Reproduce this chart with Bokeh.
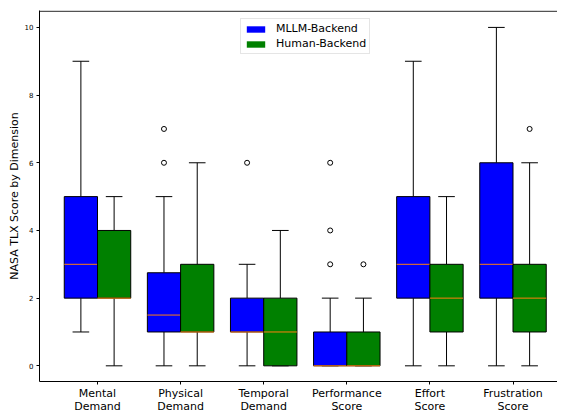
from bokeh.plotting import figure
from bokeh.models import (ColumnDataSource, Range1d, FixedTicker, Legend, LegendItem, Span)
from bokeh.transform import dodge
from bokeh.embed import file_html
from bokeh.resources import INLINE

# ---- data ----
categories = ["Mental\nDemand", "Physical\nDemand", "Temporal\nDemand",
              "Performance\nScore", "Effort\nScore", "Frustration\nScore"]
positions = [1, 2, 3, 4, 5, 6]

mllm_q1 = [2, 1, 1, 0, 2, 2]
mllm_med = [3, 1.5, 1, 0, 3, 3]
mllm_q3 = [5, 2.75, 2, 1, 5, 6]
mllm_lo = [1, 0, 0, 0, 0, 0]
mllm_hi = [9, 5, 3, 2, 9, 10]
mllm_out = [[], [6, 7], [6], [3, 4, 6], [], []]

human_q1 = [2, 1, 0, 0, 1, 1]
human_med = [2, 1, 1, 0, 2, 2]
human_q3 = [4, 3, 2, 1, 3, 3]
human_lo = [0, 0, 0, 0, 0, 0]
human_hi = [5, 6, 4, 2, 5, 6]
human_out = [[], [], [], [3], [], [7]]

yticks = [0, 2, 4, 6, 8, 10]

FONT = "DejaVu Sans"
BOX_W = 0.4
FRAME_H = 371
FRAME_W = 518
PX_PER_UNIT_Y = 33.84
PX_PER_UNIT_X = 83.1

p = figure(frame_width=FRAME_W, frame_height=FRAME_H,
           min_border_left=39, min_border_right=0, min_border_top=10, min_border_bottom=20,
           x_range=Range1d(0.302, 0.302 + FRAME_W / PX_PER_UNIT_X),
           y_range=Range1d(10.5 - FRAME_H / PX_PER_UNIT_Y, 10.5),
           output_backend="svg", toolbar_location=None)
p.xgrid.visible = False
p.ygrid.visible = False
p.outline_line_color = None
p.add_layout(Span(location=10.48, dimension="width", line_color="black", line_width=1))


def draw_group(q1, med, q3, lo, hi, out, offset, color):
    src = ColumnDataSource(dict(pos=positions, q1=q1, med=med, q3=q3, lo=lo, hi=hi))
    xc = dodge("pos", offset, range=p.x_range)
    # whiskers
    p.segment(x0=xc, y0="q3", x1=xc, y1="hi", source=src, line_color="black", line_width=1)
    p.segment(x0=xc, y0="q1", x1=xc, y1="lo", source=src, line_color="black", line_width=1)
    # caps
    p.segment(x0=dodge("pos", offset - BOX_W / 4, range=p.x_range), y0="hi",
              x1=dodge("pos", offset + BOX_W / 4, range=p.x_range), y1="hi",
              source=src, line_color="black", line_width=1)
    p.segment(x0=dodge("pos", offset - BOX_W / 4, range=p.x_range), y0="lo",
              x1=dodge("pos", offset + BOX_W / 4, range=p.x_range), y1="lo",
              source=src, line_color="black", line_width=1)
    # box fill (used for the legend) and box edge
    fill = p.vbar(x=xc, width=BOX_W, bottom="q1", top="q3", source=src,
                  fill_color=color, line_color=None)
    p.vbar(x=xc, width=BOX_W, bottom="q1", top="q3", source=src,
           fill_color=None, line_color="black", line_width=1)
    # median
    p.segment(x0=dodge("pos", offset - BOX_W / 2, range=p.x_range), y0="med",
              x1=dodge("pos", offset + BOX_W / 2, range=p.x_range), y1="med",
              source=src, line_color="#ff7f0e", line_width=1)
    # fliers
    ox, oy = [], []
    for ps, vals in zip(positions, out):
        for v in vals:
            ox.append(ps)
            oy.append(v)
    osrc = ColumnDataSource(dict(pos=ox, y=oy))
    p.scatter(x=dodge("pos", offset, range=p.x_range), y="y", source=osrc, size=5,
              marker="circle", fill_color=None, line_color="black", line_width=1)
    return fill


leg_m = draw_group(mllm_q1, mllm_med, mllm_q3, mllm_lo, mllm_hi, mllm_out, -0.2, "blue")
leg_h = draw_group(human_q1, human_med, human_q3, human_lo, human_hi, human_out, 0.2, "green")

LEG_H = 38
legend = Legend(items=[LegendItem(label="MLLM-Backend", renderers=[leg_m]),
                       LegendItem(label="Human-Backend", renderers=[leg_h])],
                location=(201, FRAME_H - 6 - LEG_H))
legend.label_text_font = FONT
legend.label_text_font_size = "11px"
legend.label_text_color = "black"
legend.glyph_width = 23
legend.glyph_height = 8
legend.label_height = 12
legend.label_standoff = 9
legend.spacing = 2
legend.padding = 3
legend.margin = 0
legend.border_line_color = "#cccccc"
legend.border_line_width = 1
legend.background_fill_alpha = 0.8
p.add_layout(legend, "center")

# axes
p.xaxis.ticker = FixedTicker(ticks=positions)
p.xaxis.major_label_overrides = {ps: c for ps, c in zip(positions, categories)}
p.xaxis.major_label_text_font = FONT
p.xaxis.major_label_text_font_size = "11px"
p.xaxis.major_label_text_color = "black"
p.xaxis.major_label_text_line_height = 1.0
p.xaxis.major_label_standoff = 2
p.xaxis.major_tick_out = 3
p.xaxis.major_tick_in = 0
p.xaxis.minor_tick_line_color = None
p.xaxis.axis_line_color = "black"

p.yaxis.ticker = FixedTicker(ticks=yticks)
p.yaxis.major_label_text_font = FONT
p.yaxis.major_label_text_font_size = "7px"
p.yaxis.major_label_text_color = "black"
p.yaxis.major_label_standoff = 3
p.yaxis.major_tick_out = 3
p.yaxis.major_tick_in = 0
p.yaxis.minor_tick_line_color = None
p.yaxis.axis_line_color = "black"
p.yaxis.axis_label = "NASA TLX Score by Dimension"
p.yaxis.axis_label_text_font = FONT
p.yaxis.axis_label_text_font_size = "11px"
p.yaxis.axis_label_text_font_style = "normal"
p.yaxis.axis_label_text_color = "black"
p.yaxis.axis_label_standoff = 1

open("out.html", "w").write(file_html(p, INLINE))
